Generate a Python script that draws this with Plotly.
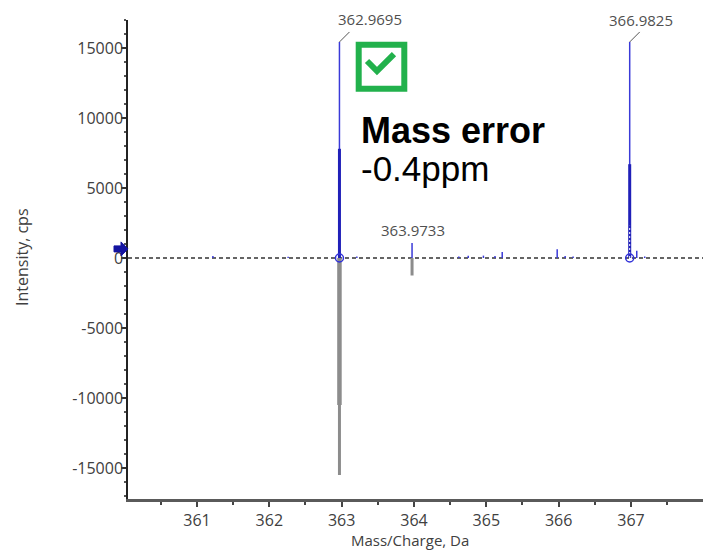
import plotly.graph_objects as go

# ---- data ----
obs_mz = [361.22, 362.26, 362.9695, 363.21, 363.9733, 364.62, 364.75, 364.96, 365.12, 365.22,
          365.98, 366.09, 366.20, 366.9825, 367.08, 367.19]
obs_int = [150, 90, 15430, 110, 1080, 110, 160, 170, 150, 420,
           620, 150, 110, 15430, 520, 110]
core_mz = [362.9695, 366.9825]
core_int = [7800, 6700]
dotted_mz = [366.9825]
dotted_int = [2300]
theo_mz = [362.9695, 363.9733]
theo_int = [-15500, -1250]
theo_core_mz = [362.9695]
theo_core_int = [-10500]
label_mz = [362.9695, 366.9825, 363.9733]
label_int = [15430, 15430, 1080]
label_text = ["362.9695", "366.9825", "363.9733"]
threshold = 650

x_range = [360.046, 367.996]
y_range = [-17214, 17000]
x_ticks = [361, 362, 363, 364, 365, 366, 367]
y_ticks = [-15000, -10000, -5000, 0, 5000, 10000, 15000]


def sticks(mz, inten):
    xs, ys = [], []
    for m, v in zip(mz, inten):
        xs += [m, m, None]
        ys += [0, v, None]
    return xs, ys


fig = go.Figure()

x, y = sticks(theo_mz, theo_int)
fig.add_trace(go.Scatter(x=x, y=y, mode="lines", line=dict(color="#8c8c8c", width=3),
                         hoverinfo="skip", showlegend=False))
x, y = sticks(theo_core_mz, theo_core_int)
fig.add_trace(go.Scatter(x=x, y=y, mode="lines", line=dict(color="#8c8c8c", width=4.5),
                         hoverinfo="skip", showlegend=False))
x, y = sticks(obs_mz, obs_int)
fig.add_trace(go.Scatter(x=x, y=y, mode="lines", line=dict(color="#3a3ad8", width=1.5),
                         hoverinfo="skip", showlegend=False))
x, y = sticks(core_mz, core_int)
fig.add_trace(go.Scatter(x=x, y=y, mode="lines", line=dict(color="#2020b8", width=3),
                         hoverinfo="skip", showlegend=False))
x, y = sticks(dotted_mz, dotted_int)
fig.add_trace(go.Scatter(x=x, y=y, mode="lines", line=dict(color="white", width=1, dash="2px,2px"),
                         hoverinfo="skip", showlegend=False))
fig.add_trace(go.Scatter(x=core_mz, y=[0] * len(core_mz), mode="markers",
                         marker=dict(symbol="circle-open", size=8, color="#3030d8", line=dict(width=1.5)),
                         hoverinfo="skip", showlegend=False))

thr_paper = (threshold - y_range[0]) / (y_range[1] - y_range[0])

shapes = [
    dict(type="line", xref="paper", x0=0, x1=1, yref="y", y0=0, y1=0, layer="below",
         line=dict(color="#333333", width=1.5, dash="4px,3px")),
    # threshold arrow at the left of the y axis
    dict(type="path", xref="paper", yref="paper", xsizemode="pixel", ysizemode="pixel",
         xanchor=0, yanchor=thr_paper,
         path="M -14,3 L -7,3 L -7,7 L 0,0 L -7,-7 L -7,-3 L -14,-3 Z",
         fillcolor="#1414a0", line=dict(color="#1414a0", width=1)),
    # check box
    dict(type="rect", xref="paper", yref="paper",
         x0=(358.7 - 128) / 575, x1=(404.3 - 128) / 575,
         y0=(499 - 88.7) / 479, y1=(499 - 44.7) / 479,
         line=dict(color="#22b14c", width=6)),
    dict(type="path", xref="paper", yref="paper",
         path="M {:.4f},{:.4f} L {:.4f},{:.4f} L {:.4f},{:.4f}".format(
             (367 - 128) / 575, (499 - 61) / 479,
             (377 - 128) / 575, (499 - 71) / 479,
             (394 - 128) / 575, (499 - 54) / 479),
         line=dict(color="#22b14c", width=6)),
]
# leader lines for the two main labels
for m, v in zip(label_mz[:2], label_int[:2]):
    shapes.append(dict(type="line", xref="x", yref="y", xsizemode="pixel", ysizemode="pixel",
                       xanchor=m, yanchor=v, x0=0, x1=10, y0=0, y1=10,
                       line=dict(color="#555555", width=1)))

annotations = []
shifts = [(31, 23), (11, 22), (1, 13)]
for m, v, t, (dx, dy) in zip(label_mz, label_int, label_text, shifts):
    annotations.append(dict(x=m, y=v, xref="x", yref="y", text=t, showarrow=False,
                            xshift=dx, yshift=dy, font=dict(size=15, color="#505050")))
annotations += [
    dict(xref="paper", yref="paper", x=(359 - 128) / 575, y=(499 - 130) / 479,
         xanchor="left", yanchor="middle", showarrow=False, text="<b>Mass error</b>",
         font=dict(family="Liberation Sans, Arial", size=36, color="black")),
    dict(xref="paper", yref="paper", x=(359 - 128) / 575, y=(499 - 169) / 479,
         xanchor="left", yanchor="middle", showarrow=False, text="-0.4ppm",
         font=dict(family="Liberation Sans, Arial", size=35, color="black")),
    dict(xref="paper", yref="paper", x=(22 - 128) / 575, y=(499 - 257) / 479,
         xanchor="center", yanchor="middle", showarrow=False, textangle=-90,
         text="Intensity, cps", font=dict(size=16, color="#404040")),
    dict(xref="paper", yref="paper", x=(410 - 128) / 575, y=(499 - 540) / 479,
         xanchor="center", yanchor="middle", showarrow=False,
         text="Mass/Charge, Da", font=dict(size=15, color="#404040")),
]

fig.update_layout(
    width=703, height=550,
    margin=dict(l=128, r=0, t=20, b=51),
    paper_bgcolor="white", plot_bgcolor="white",
    font=dict(family="Open Sans, sans-serif", size=16, color="#404040"),
    shapes=shapes, annotations=annotations,
    xaxis=dict(range=x_range, tickvals=x_ticks, ticktext=[str(v) for v in x_ticks],
               showgrid=False, zeroline=False, showline=True, linecolor="#5a5a5a", linewidth=2.5,
               ticks="outside", ticklen=5, tickwidth=1.5, tickcolor="#444",
               minor=dict(dtick=0.5, tick0=360, ticks="outside", ticklen=3, tickcolor="#444", showgrid=False),
               tickfont=dict(size=16, color="#404040")),
    yaxis=dict(range=y_range, tickvals=y_ticks, ticktext=[str(v) for v in y_ticks],
               showgrid=False, zeroline=False, showline=True, linecolor="#222", linewidth=1.5,
               ticks="outside", ticklen=5, tickwidth=1.5, tickcolor="#333",
               minor=dict(dtick=1000, tick0=0, ticks="outside", ticklen=2, tickcolor="#555", showgrid=False),
               ticklabelstandoff=-5,
               tickfont=dict(size=16, color="#404040")),
)

fig.write_html("out.html")
